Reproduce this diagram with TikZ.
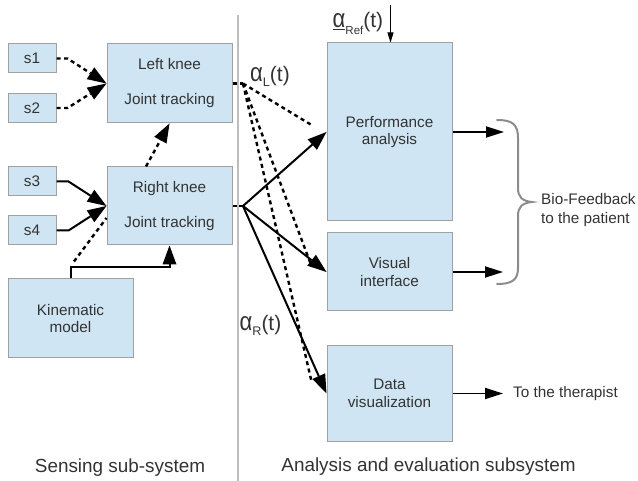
\documentclass[tikz,border=0pt]{standalone}
\usepackage{fontspec}
\setmainfont{Liberation Sans}
\usetikzlibrary{arrows.meta,calc}
\definecolor{boxfill}{HTML}{CFE5F3}
\definecolor{boxline}{HTML}{A0A0A0}
\definecolor{txt}{HTML}{333333}
\definecolor{divider}{HTML}{BDBDBD}
\definecolor{bracecol}{HTML}{8C8C8C}
\newcommand{\myalpha}{{\fontsize{26}{26}\selectfont\scalebox{0.85}[1]{α}}}
\begin{document}
\begin{tikzpicture}[x=1pt,y=-1pt,
  box/.style={draw=boxline, line width=1pt, fill=boxfill, text=txt, align=center, inner sep=0pt, font=\fontsize{15.3}{17.5}\selectfont},
  sol/.style={line width=2pt, black},
  dsh/.style={line width=2.4pt, black, dash pattern=on 4pt off 3.5pt},
  tip/.style={-{Triangle[length=19pt,width=14pt,line width=0pt]}},
  outarrow/.style={line width=1.8pt, black, -{Triangle[length=18pt,width=11pt]}},
  lbl/.style={text=txt, inner sep=0pt, font=\fontsize{15.3}{19}\selectfont},
  biglbl/.style={text=txt, inner sep=0pt, font=\fontsize{18.9}{22}\selectfont},
  greek/.style={text=txt, inner sep=0pt, font=\fontsize{21}{21}\selectfont},
]
\useasboundingbox (0,0) rectangle (638,481);

% sensing boxes
\node[box, minimum width=48pt, minimum height=29pt] (s1) at (32,58.5) {s1};
\node[box, minimum width=48pt, minimum height=29pt] (s2) at (32,108) {s2};
\node[box, minimum width=48pt, minimum height=29pt] (s3) at (32,181.5) {s3};
\node[box, minimum width=48pt, minimum height=29pt] (s4) at (32,230.5) {s4};
\node[box, minimum width=125pt, minimum height=79pt] (lk) at (169.5,83.5) {Left knee\\[17.5pt]Joint tracking};
\node[box, minimum width=125pt, minimum height=78pt] (rk) at (169.5,206) {Right knee\\[17.5pt]Joint tracking};
\node[box, minimum width=125pt, minimum height=79pt] (km) at (70.5,318.5) {Kinematic\\model};

% analysis boxes
\node[box, minimum width=125pt, minimum height=178pt] (pa) at (389.5,132) {Performance\\analysis};
\node[box, minimum width=125pt, minimum height=78pt] (vi) at (389.5,272) {Visual\\interface};
\node[box, minimum width=125pt, minimum height=95pt] (dv) at (389.5,393.5) {Data\\visualization};

% left connectors
\draw[dsh, tip] (s1.east) -- ++(11,0) -- (lk.west);
\draw[dsh, tip] (s2.east) -- ++(11,0) -- (lk.west);
\draw[sol, tip] (s3.east) -- ++(12,0) -- (rk.west);
\draw[sol, tip] (s4.east) -- ++(12,0) -- (rk.west);
\draw[sol, tip] (km.north) |- ($(rk.south)+(0,22)$) -- (rk.south);
\draw[dsh] ($(km.north)+(3.5,-17)$) -- ($(rk.west)+(0,12)$);
\draw[dsh, tip] ($(rk.north)+(-23.5,0)$) -- (lk.south);

% branch points
\coordinate (lb) at (243,83.5);
\coordinate (rb) at (243,206);
\draw[dsh] (lk.east) -- (lb);
\draw[sol] (rk.east) -- (rb);
\draw[dsh] (lb) -- ($(pa.west)+(-15,-7)$);
\draw[dsh] (lb) -- ($(vi.west)+(-15,-6)$);
\draw[dsh] (lb) -- ($(dv.west)+(-15,-12)$);
\draw[sol, tip] (rb) -- (pa.west);
\draw[sol, tip] (rb) -- (vi.west);
\draw[sol, tip] (rb) -- (dv.west);

% alpha labels
\node[greek, anchor=base west] (aL) at (250,81.5) {\myalpha\raisebox{-5pt}{\fontsize{12.5}{12.5}\selectfont L}(t)};
\node[greek, anchor=base west] (aR) at (239.5,331) {\myalpha\raisebox{-5pt}{\fontsize{12.5}{12.5}\selectfont R}(t)};
\node[greek, anchor=base west] (aRef) at (332.5,28) {\underline{\myalpha}\raisebox{-7pt}{\fontsize{11.5}{11.5}\selectfont Ref}(t)};
\coordinate (refTop) at (390.5,5);
\draw[line width=1pt, black, -{Triangle[length=10pt,width=6pt]}] (refTop) -- (refTop |- pa.north);

% outputs
\coordinate (pao) at (504,132);
\coordinate (vio) at (503,272);
\draw[outarrow] (pa.east) -- (pao);
\draw[outarrow] (vi.east) -- (vio);
\node[lbl, anchor=west] (ther) at (513,393.5) {To the therapist};
\draw[outarrow] (dv.east) -- ($(ther.west)+(-10,0)$);

% brace
\draw[bracecol, line width=2pt, line cap=round]
  (497,120) .. controls (512,120) and (518,124) .. (518,138) -- (518,188)
  .. controls (518,197) and (522,201) .. (532,202)
  .. controls (522,203) and (518,207) .. (518,216) -- (518,268)
  .. controls (518,280) and (512,284) .. (497,284);
\node[lbl, anchor=west, align=left] (bio) at (541,210) {Bio-Feedback\\to the patient};

% divider
\coordinate (dtop) at (237.5,15);
\coordinate (dbot) at (237.5,481);
\draw[divider, line width=2pt] (dtop) -- (dbot);

% bottom labels
\node[biglbl] (sens) at (120,468) {Sensing sub-system};
\node[biglbl] (ana) at (428.5,467) {Analysis and evaluation subsystem};
\end{tikzpicture}
\end{document}
